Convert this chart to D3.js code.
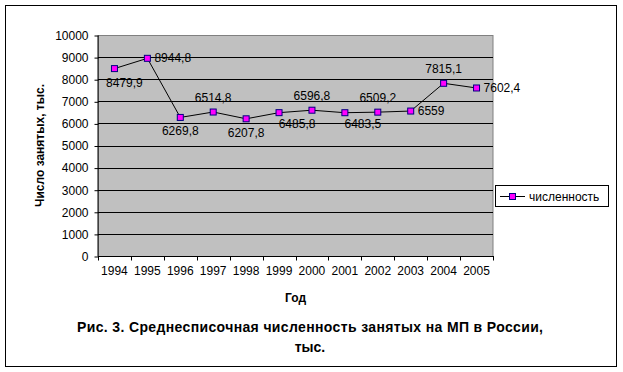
<!DOCTYPE html>
<html><head><meta charset="utf-8">
<script src="https://cdn.jsdelivr.net/npm/d3@7/dist/d3.min.js"></script>
<style>
html,body{margin:0;padding:0;background:#fff;}
svg{display:block;font-family:"Liberation Sans",Arial,sans-serif;}
</style></head>
<body><svg id="c" width="623" height="372"></svg>
<script>
const years = ["1994","1995","1996","1997","1998","1999","2000","2001","2002","2003","2004","2005"];
const values = [8479.9, 8944.8, 6269.8, 6514.8, 6207.8, 6485.8, 6596.8, 6483.5, 6509.2, 6559, 7815.1, 7602.4];
const valueLabels = ["8479,9","8944,8","6269,8","6514,8","6207,8","6485,8","6596,8","6483,5","6509,2","6559","7815,1","7602,4"];
const labelPlacement = ["belowright2","right","below","above","below","belowright","above","belowright","above","right","above","right"];
const yTicks = [0,1000,2000,3000,4000,5000,6000,7000,8000,9000,10000];
const seriesName = "численность";
const xTitle = "Год";
const yTitle = "Число занятых, тыс.";
const titleLines = ["Рис. 3. Среднесписочная численность занятых на МП в России,", "тыс."];

const svg = d3.select("#c");
// chart area frame
svg.append("rect").attr("x",5.5).attr("y",5.5).attr("width",611).attr("height",361)
  .attr("fill","#fff").attr("stroke","#000").attr("stroke-width",1);

const L = 98, R = 493, T = 35, B = 256;
const x = d3.scaleBand().domain(years).range([L, R]);
const y = d3.scaleLinear().domain([0, 10000]).range([B, T]);

// plot area
svg.append("rect").attr("x",L+0.5).attr("y",T+0.5).attr("width",R-L-0.5).attr("height",B-T)
  .attr("fill","#c0c0c0").attr("stroke","#808080").attr("stroke-width",1);

// gridlines
svg.append("g").selectAll("line").data(yTicks.filter(d=>d>0 && d<10000)).join("line")
  .attr("x1",L).attr("x2",R).attr("y1",d=>Math.round(y(d))+0.5).attr("y2",d=>Math.round(y(d))+0.5)
  .attr("stroke","#000").attr("stroke-width",1);

// y axis
const yAxis = d3.axisLeft(y).tickValues(yTicks).tickSize(4).tickPadding(6).tickFormat(d=>String(d));
const gy = svg.append("g").attr("transform",`translate(${L+0.5},0.5)`).call(yAxis);
gy.select(".domain").attr("d",`M-0.5,${T}V${B}`).attr("stroke","#000");
gy.selectAll(".tick line").attr("stroke","#000");
gy.selectAll(".tick text").attr("font-size",12).attr("fill","#000").attr("font-family","Liberation Sans, Arial, sans-serif");

// x axis: ticks between categories
const gx = svg.append("g").attr("transform",`translate(0,${B+0.5})`);
gx.append("line").attr("x1",L).attr("x2",R+1).attr("y1",0).attr("y2",0).attr("stroke","#000");
const edges = years.map(d=>x(d)).concat([R]);
gx.selectAll("line.t").data(edges).join("line").attr("class","t")
  .attr("x1",d=>Math.round(d)+0.5).attr("x2",d=>Math.round(d)+0.5).attr("y1",0).attr("y2",4).attr("stroke","#000");
gx.selectAll("text").data(years).join("text")
  .attr("x",d=>x(d)+x.bandwidth()/2).attr("y",18).attr("text-anchor","middle")
  .attr("font-size",12).text(d=>d);

// line
const pts = values.map((v,i)=>({year:years[i], v, lab:valueLabels[i], pl:labelPlacement[i]}));
const cx = d=>x(d.year)+x.bandwidth()/2;
svg.append("path").datum(pts)
  .attr("d", d3.line().x(cx).y(d=>y(d.v)))
  .attr("fill","none").attr("stroke","#000").attr("stroke-width",1);

// markers
svg.append("g").selectAll("rect").data(pts).join("rect")
  .attr("x",d=>cx(d)-3).attr("y",d=>y(d.v)-3).attr("width",6).attr("height",6)
  .attr("fill","#ff00ff").attr("stroke","#000080").attr("stroke-width",1);

// data labels
const off = {
  below:{dx:0,dy:18,a:"middle"},
  above:{dx:0,dy:-10,a:"middle"},
  right:{dx:7,dy:4,a:"start"},
  belowright:{dx:18,dy:15,a:"middle"},
  belowright2:{dx:10,dy:18,a:"middle"}
};
svg.append("g").selectAll("text").data(pts).join("text")
  .attr("x",d=>cx(d)+off[d.pl].dx).attr("y",d=>y(d.v)+off[d.pl].dy)
  .attr("text-anchor",d=>off[d.pl].a).attr("font-size",12).attr("fill","#000")
  .text(d=>d.lab);

// axis titles
svg.append("text").attr("x",(L+R)/2).attr("y",302).attr("text-anchor","middle")
  .attr("font-size",12).attr("font-weight","bold").text(xTitle);
svg.append("text").attr("transform",`translate(44,${(T+B)/2}) rotate(-90)`).attr("text-anchor","middle")
  .attr("font-size",12).attr("font-weight","bold").text(yTitle);

// legend
const lg = svg.append("g");
lg.append("rect").attr("x",495.5).attr("y",185.5).attr("width",113).attr("height",21)
  .attr("fill","#fff").attr("stroke","#000");
lg.append("line").attr("x1",500).attr("x2",525).attr("y1",196.5).attr("y2",196.5).attr("stroke","#000");
lg.append("rect").attr("x",509.5).attr("y",193.5).attr("width",6).attr("height",6)
  .attr("fill","#ff00ff").attr("stroke","#000080");
lg.append("text").attr("x",529).attr("y",201).attr("font-size",12).text(seriesName);

// chart title
svg.append("g").selectAll("text").data(titleLines).join("text")
  .attr("x",310).attr("y",(d,i)=>332+i*20).attr("text-anchor","middle")
  .attr("font-size",14).attr("font-weight","bold")
  .each(function(d,i){ if(i===0) d3.select(this).attr("textLength",466).attr("lengthAdjust","spacing"); })
  .text(d=>d);
</script></body></html>
